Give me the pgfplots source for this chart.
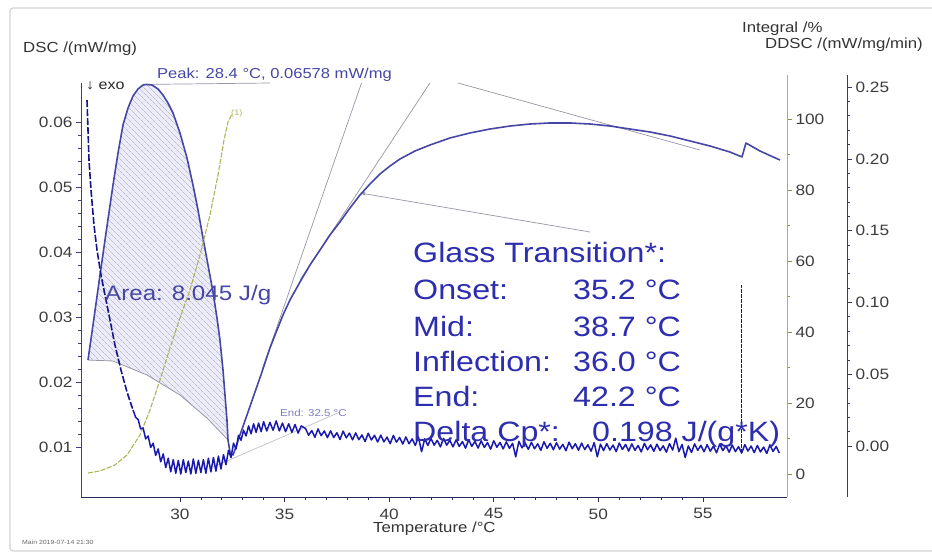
\documentclass[border=0pt]{standalone}
\usepackage{fontspec}
\setmainfont{Liberation Sans}[FakeStretch=1.15]
\usepackage{pgfplots}
\pgfplotsset{compat=1.18}
\usetikzlibrary{patterns.meta,arrows.meta}
\definecolor{dscblue}{RGB}{70,70,165}
\definecolor{ddscblue}{RGB}{25,25,175}
\definecolor{intolive}{RGB}{175,180,90}
\definecolor{textblue}{RGB}{45,45,175}
\definecolor{hatchfill}{RGB}{236,236,248}
\definecolor{hatchline}{RGB}{165,165,185}
\definecolor{annot}{RGB}{150,150,165}
\definecolor{leftaxis}{RGB}{60,60,150}
\definecolor{botaxis}{RGB}{40,40,90}
\definecolor{ddscaxis}{RGB}{55,55,110}
\definecolor{tickgray}{RGB}{60,60,60}
\pgfplotsset{
  base/.style={scale only axis, anchor=south west, tick align=outside,
    major tick length=5pt, minor tick length=3pt,
    tick label style={font=\fontsize{15}{18}\selectfont, text=tickgray},
    /pgf/number format/assume math mode=true, clip=false, scaled y ticks=false},
  twodec/.style={yticklabel style={/pgf/number format/fixed, /pgf/number format/fixed zerofill, /pgf/number format/precision=2}},
}
\begin{document}
\begin{tikzpicture}
\useasboundingbox (0pt,0pt) rectangle (932pt,554pt);
\draw[gray!35, line width=1.2pt, rounded corners=3pt] (10pt,3pt) rectangle (950pt,546pt);

% ---------------- main DSC axis
\begin{axis}[base, twodec, at={(81pt,57pt)}, width=706pt, height=414pt,
  xmin=25.27, xmax=59.02, ymin=0.00231, ymax=0.0660,
  axis x line*=bottom, axis y line*=left,
  x axis line style={-, botaxis, line width=0.8pt},
  y axis line style={-, leftaxis, line width=0.8pt},
  xtick={30,35,40,45,50,55}, minor x tick num=4,
  ytick={0.01,0.02,0.03,0.04,0.05,0.06}, minor y tick num=4,
  xtick style={botaxis, line width=0.6pt},
  ytick style={leftaxis, line width=0.6pt},
  xticklabel style={yshift=-3pt},
]
% hatched area
\addplot[draw=none, fill=hatchfill,
  postaction={pattern={Lines[angle=-45, distance=4pt, line width=0.45pt]}, pattern color=hatchline}]
coordinates {
(25.605,0.02338) (25.891,0.02985) (26.178,0.03646) (26.465,0.04292) (26.800,0.05031)
(27.039,0.05523) (27.278,0.05954) (27.517,0.06215) (27.756,0.06400) (27.995,0.06508)
(28.234,0.06569) (28.400,0.06578) (28.664,0.06569) (28.951,0.06508) (29.190,0.06415)
(29.429,0.06292) (29.668,0.06138) (30.002,0.05831) (30.337,0.05446) (30.624,0.05031)
(30.863,0.04646) (31.102,0.04215) (31.341,0.03800) (31.580,0.03385) (31.771,0.02985)
(31.914,0.02646) (32.058,0.02185) (32.153,0.01800) (32.249,0.01415) (32.297,0.01108)
(31.293,0.01446) (30.002,0.01800) (28.425,0.02108) (26.800,0.02323) (25.605,0.02338)};
% baseline of the peak
\addplot[annot, line width=0.8pt] coordinates {
(25.605,0.02338) (26.800,0.02323) (28.425,0.02108) (30.002,0.01800) (31.293,0.01446) (32.297,0.01108)};
% annotation lines
\addplot[annot, line width=0.7pt] coordinates {(28.40,0.06578) (34.30,0.0660)};
\addplot[annot, line width=0.7pt] coordinates {(38.68,0.0660) (33.92,0.02185)};
\addplot[annot, line width=0.7pt] coordinates {(41.95,0.0660) (35.74,0.03569)};
\addplot[annot, line width=0.7pt] coordinates {(43.29,0.0660) (54.86,0.05569)};
\addplot[annot, line width=0.7pt, -{Latex[length=5pt]}] coordinates {(49.60,0.04308) (38.61,0.04908)};
\addplot[annot!60, line width=0.7pt] coordinates {(31.58,0.00692) (37.65,0.01538)};
% DSC curve
\addplot[dscblue, line width=1.6pt, line join=round] coordinates {
(25.605,0.02338) (25.891,0.02985) (26.178,0.03646) (26.465,0.04292) (26.800,0.05031)
(27.039,0.05523) (27.278,0.05954) (27.517,0.06215) (27.756,0.06400) (27.995,0.06508)
(28.234,0.06569) (28.400,0.06578) (28.664,0.06569) (28.951,0.06508) (29.190,0.06415)
(29.429,0.06292) (29.668,0.06138) (30.002,0.05831) (30.337,0.05446) (30.624,0.05031)
(30.863,0.04646) (31.102,0.04215) (31.341,0.03800) (31.580,0.03385) (31.771,0.02985)
(31.914,0.02646) (32.058,0.02185) (32.153,0.01800) (32.249,0.01415) (32.297,0.01108)
(32.392,0.00923) (32.536,0.00877) (32.679,0.01000) (32.870,0.01185) (33.205,0.01492)
(33.587,0.01846) (33.922,0.02154) (34.304,0.02523) (34.639,0.02800) (34.926,0.03031)
(35.260,0.03262) (35.738,0.03538) (36.216,0.03800) (36.694,0.04031) (37.172,0.04262)
(37.651,0.04462) (38.128,0.04677) (38.607,0.04877) (39.085,0.05046) (39.563,0.05200)
(40.041,0.05323) (40.519,0.05431) (41.236,0.05554) (41.953,0.05646) (42.909,0.05754)
(43.865,0.05831) (44.821,0.05892) (45.777,0.05938) (46.733,0.05969) (47.689,0.05985)
(48.645,0.05985) (49.601,0.05969) (50.557,0.05938) (51.513,0.05892) (52.469,0.05846)
(53.425,0.05785) (54.381,0.05708) (55.337,0.05631) (56.293,0.05538) (56.867,0.05462)
(56.962,0.05569) (57.058,0.05677) (57.727,0.05554) (58.683,0.05415)};
\end{axis}

% ---------------- Integral axis
\begin{axis}[base, at={(81pt,57pt)}, width=706pt, height=422pt,
  xmin=25.27, xmax=59.02, ymin=-6.48, ymax=112.39,
  hide x axis, axis y line*=right,
  y axis line style={-, intolive, line width=0.8pt},
  ytick={0,20,40,60,80,100}, minor y tick num=1,
  ytick style={intolive!80!black, line width=0.6pt},
]
\addplot[intolive, line width=1.1pt, dash pattern=on 5pt off 1.5pt] coordinates {
(25.605,0.28) (26.178,0.85) (26.895,2.54) (27.469,5.35) (28.090,10.99) (28.568,18.03)
(29.046,26.48) (29.524,35.49) (30.002,43.94) (30.480,51.83) (30.958,61.69) (31.436,72.96)
(31.819,84.23) (32.106,94.08) (32.297,99.15) (32.488,101.41)};
\end{axis}

% ---------------- DDSC axis
\begin{axis}[base, twodec, at={(81pt,57pt)}, width=766pt, height=422pt,
  xmin=25.27, xmax=61.885, ymin=-0.0355, ymax=0.2584,
  hide x axis, axis y line*=right,
  y axis line style={-, ddscaxis, line width=0.8pt},
  ytick={0,0.05,0.10,0.15,0.20,0.25}, minor y tick num=4,
  ytick style={ddscaxis, line width=0.6pt},
]
\addplot[ddscblue!80!black, line width=1.6pt, dash pattern=on 7pt off 2pt] coordinates {
(25.557,0.2409) (25.605,0.2201) (25.652,0.1992) (25.748,0.1783) (25.891,0.1539)
(26.035,0.1365) (26.226,0.1191) (26.417,0.1052) (26.656,0.0877) (26.895,0.0703)
(27.182,0.0529) (27.469,0.0376) (27.756,0.0251)};
\addplot[ddscblue!80!black, line width=1pt, dash pattern=on 4pt off 1pt] coordinates {
(56.82,-0.0050) (56.82,0.1121)};
\addplot[ddscblue, line width=1.5pt, line join=round] coordinates {
(27.76,0.0251) (27.88,0.0200) (28.00,0.0185) (28.12,0.0120) (28.24,0.0125) (28.36,0.0050)
(28.48,0.0070) (28.60,-0.0010) (28.72,0.0020) (28.84,-0.0065) (28.96,-0.0020) (29.08,-0.0110)
(29.20,-0.0055) (29.32,-0.0150) (29.44,-0.0085) (29.56,-0.0180) (29.68,-0.0095) (29.80,-0.0190)
(29.92,-0.0100) (30.04,-0.0195) (30.16,-0.0095) (30.28,-0.0185) (30.40,-0.0105) (30.52,-0.0195)
(30.64,-0.0090) (30.76,-0.0190) (30.88,-0.0100) (31.00,-0.0185) (31.12,-0.0095) (31.24,-0.0190)
(31.36,-0.0085) (31.48,-0.0180) (31.60,-0.0080) (31.72,-0.0175) (31.84,-0.0070) (31.96,-0.0160)
(32.08,-0.0060) (32.20,-0.0130) (32.32,-0.0030) (32.44,-0.0080) (32.56,0.0020) (32.68,-0.0020)
(32.80,0.0075) (32.92,0.0040) (33.04,0.0110) (33.16,0.0070) (33.28,0.0140) (33.40,0.0085)
(33.52,0.0155) (33.64,0.0095) (33.76,0.0160) (33.88,0.0100) (34.00,0.0170) (34.15,0.0105)
(34.30,0.0165) (34.45,0.0110) (34.60,0.0175) (34.75,0.0105) (34.90,0.0160) (35.05,0.0100)
(35.20,0.0155) (35.35,0.0095) (35.50,0.0150) (35.65,0.0090) (35.80,0.0140)
(36.00,0.0122) (36.15,0.0075) (36.30,0.0108) (36.45,0.0061) (36.60,0.0119) (36.75,0.0072)
(36.90,0.0105) (37.05,0.0058) (37.20,0.0106) (37.35,0.0059) (37.50,0.0093) (37.65,0.0046)
(37.80,0.0104) (37.95,0.0057) (38.10,0.0090) (38.25,0.0043) (38.40,0.0091) (38.55,0.0044)
(38.70,0.0077) (38.85,0.0031) (39.00,0.0089) (39.15,0.0042) (39.30,0.0075) (39.45,0.0028)
(39.60,0.0076) (39.75,0.0029) (39.90,0.0062) (40.05,0.0016) (40.20,0.0074) (40.35,0.0027)
(40.50,0.0060) (40.65,0.0014) (40.80,0.0063) (40.95,0.0016) (41.10,0.0050) (41.25,0.0004)
(41.40,0.0063) (41.55,-0.0040) (41.70,0.0050) (41.85,0.0004) (42.00,0.0053) (42.15,0.0006)
(42.30,0.0040) (42.45,-0.0006) (42.60,0.0053) (42.75,0.0006) (42.90,0.0040) (43.05,-0.0006)
(43.20,0.0043) (43.35,-0.0003) (43.50,0.0031) (43.65,-0.0015) (43.80,0.0044) (43.95,-0.0002)
(44.10,0.0032) (44.25,-0.0014) (44.40,0.0036) (44.55,-0.0010) (44.70,0.0024) (44.85,-0.0022)
(45.00,0.0037) (45.15,-0.0009) (45.30,0.0025) (45.45,-0.0020) (45.60,0.0029) (45.75,-0.0016)
(45.90,0.0019) (46.05,-0.0075) (46.20,0.0033) (46.35,-0.0013) (46.50,0.0022) (46.65,-0.0023)
(46.80,0.0026) (46.95,-0.0019) (47.10,0.0015) (47.25,-0.0030) (47.40,0.0030) (47.55,-0.0016)
(47.70,0.0019) (47.85,-0.0026) (48.00,0.0023) (48.15,-0.0022) (48.30,0.0012) (48.45,-0.0033)
(48.60,0.0027) (48.75,-0.0019) (48.90,0.0016) (49.05,-0.0029) (49.20,0.0020) (49.35,-0.0025)
(49.50,0.0009) (49.65,-0.0036) (49.80,0.0024) (49.95,-0.0075) (50.10,0.0013) (50.25,-0.0032)
(50.40,0.0017) (50.55,-0.0028) (50.70,0.0007) (50.85,-0.0039) (51.00,0.0021) (51.15,-0.0024)
(51.30,0.0011) (51.45,-0.0035) (51.60,0.0015) (51.75,-0.0030) (51.90,0.0004) (52.05,-0.0041)
(52.20,0.0019) (52.35,-0.0026) (52.50,0.0008) (52.65,-0.0037) (52.80,0.0013) (52.95,-0.0032)
(53.10,0.0002) (53.25,-0.0043) (53.40,0.0017) (53.55,-0.0028) (53.70,0.0055) (53.85,-0.0039)
(54.00,0.0011) (54.15,-0.0080) (54.30,0.0001) (54.45,-0.0045) (54.60,0.0015) (54.75,-0.0030)
(54.90,0.0005) (55.05,-0.0040) (55.20,0.0009) (55.35,-0.0036) (55.50,-0.0001) (55.65,-0.0047)
(55.80,0.0013) (55.95,-0.0032) (56.10,0.0002) (56.25,-0.0043) (56.40,0.0007) (56.55,-0.0039)
(56.70,-0.0004) (56.85,-0.0049) (57.00,0.0010) (57.15,-0.0035) (57.30,0.0000) (57.45,-0.0046)
(57.60,0.0004) (57.75,-0.0041) (57.90,-0.0007) (58.05,-0.0052) (58.20,0.0008) (58.35,-0.0038)
(58.50,-0.0003) (58.65,-0.0049)};
\end{axis}

% ---------------- texts
\node[anchor=base west, inner sep=0pt, text=black!80, font=\fontsize{14.6}{17}\selectfont] at (23pt,501pt) {DSC /(mW/mg)};
\node[anchor=base west, inner sep=0pt, text=black!80, font=\fontsize{14.6}{17}\selectfont] at (742pt,521pt) {Integral /\%};
\node[anchor=base west, inner sep=0pt, text=black!80, font=\fontsize{14.6}{17}\selectfont] at (765pt,505pt) {DDSC /(mW/mg/min)};
\node[anchor=base west, inner sep=0pt, text=black!80, font=\fontsize{14.6}{17}\selectfont] at (373pt,21pt) {Temperature /°C};
\node[anchor=base west, inner sep=0pt, text=black!85, font=\fontsize{14}{17}\selectfont] at (86pt,464pt) {↓ exo};
\node[anchor=base west, inner sep=0pt, text=dscblue, font=\fontsize{14.4}{17}\selectfont] at (157pt,475pt) {Peak: 28.4 °C, 0.06578 mW/mg};
\node[anchor=base west, inner sep=0pt, text=dscblue, font=\fontsize{21}{25}\selectfont] at (105pt,253pt) {Area: 8.045 J/g};
\node[anchor=base west, inner sep=0pt, text=dscblue!70, font=\fontsize{10}{12}\selectfont] at (280pt,137pt) {End: 32.5 °C};
\node[anchor=base west, inner sep=0pt, text=intolive, font=\fontsize{8}{10}\selectfont] at (231pt,438pt) {(1)};
\node[anchor=base west, inner sep=0pt, text=black!60, font=\fontsize{6}{7}\selectfont] at (22pt,9pt) {Main 2019-07-14 21:30};
\begin{scope}[every node/.style={anchor=base west, inner sep=0pt, text=textblue, font=\fontsize{28}{32}\selectfont}]
\node at (413pt,291pt) {Glass Transition*:};
\node at (413pt,254pt) {Onset:};
\node at (573pt,254pt) {35.2 °C};
\node at (413pt,217pt) {Mid:};
\node at (573pt,217pt) {38.7 °C};
\node at (413pt,182pt) {Inflection:};
\node at (573pt,182pt) {36.0 °C};
\node at (413pt,147pt) {End:};
\node at (573pt,147pt) {42.2 °C};
\node at (413pt,112pt) {Delta Cp*:};
\node at (592pt,112pt) {0.198 J/(g*K)};
\end{scope}
\end{tikzpicture}
\end{document}
